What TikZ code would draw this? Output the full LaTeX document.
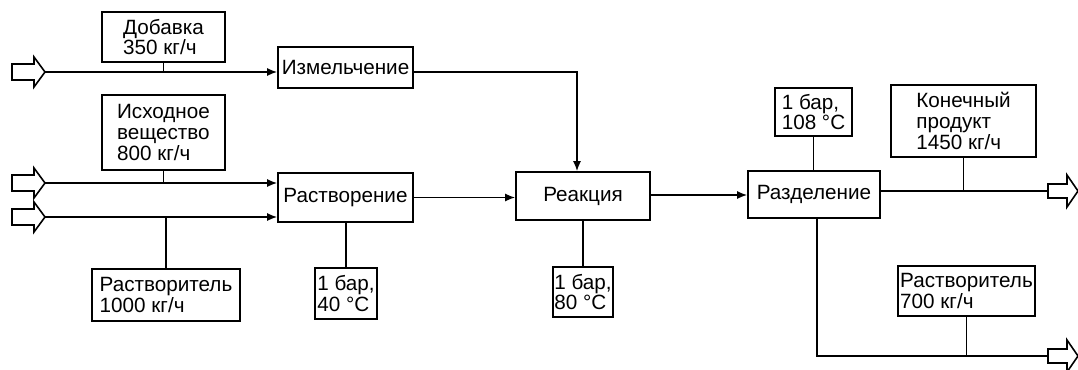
\documentclass[tikz,border=0pt]{standalone}
\usepackage{fontspec}
\setmainfont{Liberation Sans}
\usetikzlibrary{arrows.meta,calc}
\tikzset{
  bx/.style={draw, line width=1.2pt, inner sep=1pt, align=left, font=\fontsize{15.5}{15.5}\selectfont},
  ln/.style={line width=1.2pt},
  arr/.style={ln, -{Latex[length=7.5pt,width=6pt]}},
  hin/.pic={\draw[line width=1.2pt, line join=miter] (0,-8) -- (22,-8) -- (22,-15) -- (33,0) -- (22,15) -- (22,8) -- (0,8) -- cycle;},
  hout/.pic={\draw[line width=1.2pt, line join=miter] (0,-7) -- (19,-7) -- (19,-16) -- (30,0) -- (19,16) -- (19,7) -- (0,7) -- cycle;}
}
\begin{document}
\begin{tikzpicture}[x=0.75pt,y=-0.75pt]
\useasboundingbox (0,0) rectangle (1078,369);
% boxes
\node[bx, minimum width=92.25pt, minimum height=37.5pt] (dob) at (163.5,37) {Добавка\\350 кг/ч};
\node[bx, minimum width=101.25pt, minimum height=30.75pt] (izm) at (345.5,67.5) {Измельчение};
\node[bx, minimum width=92.25pt, minimum height=56.25pt] (ish) at (163.5,132.5) {Исходное\\вещество\\800 кг/ч};
\node[bx, minimum width=101.25pt, minimum height=36.75pt] (rast) at (345.5,197.5) {Растворение};
\node[bx, minimum width=111pt, minimum height=39pt] (rastv) at (166,295) {Растворитель\\1000 кг/ч};
\node[bx, minimum width=46.5pt, minimum height=38.25pt] (pa) at (346,293.5) {1 бар,\\40 °C};
\node[bx, minimum width=100.5pt, minimum height=36pt] (reak) at (583,196) {Реакция};
\node[bx, minimum width=45pt, minimum height=37.5pt] (pb) at (583,292) {1 бар,\\80 °C};
\node[bx, minimum width=99pt, minimum height=35.25pt] (razd) at (814,194.5) {Разделение};
\node[bx, minimum width=57.75pt, minimum height=36pt] (pc) at (813.5,112) {1 бар,\\108 °C};
\node[bx, minimum width=108.75pt, minimum height=54pt] (kon) at (963.5,121) {Конечный\\продукт\\1450 кг/ч};
\node[bx, minimum width=102.75pt, minimum height=37.5pt] (rastw) at (966.5,291) {Растворитель\\700 кг/ч};
% hollow arrows
\pic at (12,72) {hin};
\pic at (12,183) {hin};
\pic at (12,217) {hin};
\pic at (1048,191) {hout};
\pic at (1048,356) {hout};
\coordinate (ta) at (45,72);
\coordinate (tb) at (45,183);
\coordinate (tc) at (45,217);
\coordinate (od) at (1048,191);
\coordinate (oe) at (1048,356);
% connectors
\draw[arr] (ta) -- (ta -| izm.west);
\draw[ln] (dob.south) -- (dob.south |- ta);
\draw[arr] (ta -| izm.east) -| ([xshift=-4.5pt]reak.north);
\draw[arr] (tb) -- (tb -| rast.west);
\draw[ln] (ish.south) -- (ish.south |- tb);
\draw[arr] (tc) -- (tc -| rast.west);
\draw[ln] (tc -| rastv.north) -- (rastv.north);
\draw[arr] (rast.east) -- (rast.east -| reak.west);
\draw[ln] (rast.south -| pa.north) -- (pa.north);
\draw[arr] ([yshift=0.75pt]reak.east) -- ([yshift=0.75pt]reak.east -| razd.west);
\draw[ln] (reak.south) -- (pb.north);
\draw[ln] (pc.south) -- (pc.south |- razd.north);
\draw[ln] (od -| razd.east) -- (od);
\draw[ln] (kon.south) -- (kon.south |- od);
\draw[ln] ([xshift=2.25pt]razd.south) |- (oe);
\draw[ln] (rastw.south) -- (rastw.south |- oe);
\end{tikzpicture}
\end{document}
